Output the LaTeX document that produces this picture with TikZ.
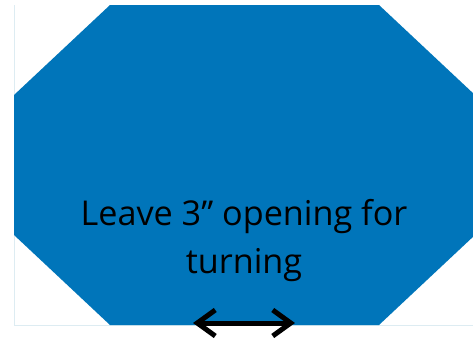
\documentclass[tikz,border=0pt]{standalone}
\usepackage{fontspec}
\setmainfont{Open Sans}
\usepackage{xcolor}
\usetikzlibrary{arrows.meta}

\definecolor{quiltblue}{RGB}{0,117,186}
\definecolor{edgegrey}{RGB}{221,236,242}

\begin{document}
\begin{tikzpicture}[x=1pt, y=-1pt,
    note/.style={align=center, inner sep=0pt, text=black,
                 font=\fontsize{34.2}{48}\selectfont},
    gaparrow/.style={line width=5pt,
                     {Straight Barb[length=18pt,width=26pt]}-{Straight Barb[length=18pt,width=26pt]}}]
  \useasboundingbox (0,0) rectangle (473,340);
  % faint frame lines
  \draw[edgegrey, line width=1pt] (14,5) -- (14,325) -- (473,325);
  % octagon
  \begin{scope}
    \clip (0,0) rectangle (473,340);
    \fill[quiltblue] (110,5) -- (379,5) -- (475,95) -- (475,235)
      -- (379,325) -- (110,325) -- (14,235) -- (14,95) -- cycle;
  \end{scope}
  \node[note] (label) at (244,241) {Leave 3” opening for\\turning};
  \coordinate (gapL) at (193,323);
  \coordinate (gapR) at (295,323);
  \draw[gaparrow] (gapL) -- (gapR);
\end{tikzpicture}
\end{document}
